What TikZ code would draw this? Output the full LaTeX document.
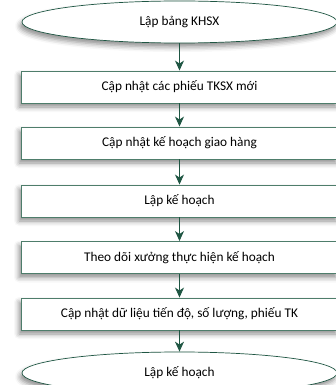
\documentclass[tikz,border=0pt]{standalone}
\usepackage{fontspec}
\setmainfont{Carlito}
\usetikzlibrary{shapes.geometric,shadows.blur,arrows.meta}
\definecolor{edgegreen}{HTML}{4E7D6B}
\definecolor{arrowgreen}{HTML}{1F5643}
\tikzset{
  stepbox/.style={draw=edgegreen, line width=0.9pt, fill=white, rectangle,
    minimum width=317pt, minimum height=32pt, inner sep=0pt, font=\fontsize{13.3}{15}\selectfont,
    blur shadow={shadow xshift=-2pt, shadow yshift=-4pt, shadow blur radius=5pt, shadow opacity=45}},
  termbox/.style={draw=arrowgreen, line width=0.7pt, fill=white, ellipse,
    minimum width=315pt, minimum height=42pt, inner sep=0pt, font=\fontsize{13.3}{15}\selectfont,
    blur shadow={shadow xshift=-2pt, shadow yshift=-4pt, shadow blur radius=5pt, shadow opacity=45}},
  flow/.style={draw=arrowgreen, line width=1pt, -{Stealth[length=10pt,width=9pt,inset=3pt]}}
}
\begin{document}
\begin{tikzpicture}[x=1pt,y=-1pt]
\useasboundingbox (0,0) rectangle (336,385);
\node[termbox] (e1) at (179.5,22) {Lập bảng KHSX};
\node[stepbox] (b1) at (179.5,87) {Cập nhật các phiếu TKSX mới};
\node[stepbox] (b2) at (179.5,143) {Cập nhật kế hoạch giao hàng};
\node[stepbox] (b3) at (179.5,201) {Lập kế hoạch};
\node[stepbox] (b4) at (179.5,257.5) {Theo dõi xưởng thực hiện kế hoạch};
\node[stepbox] (b5) at (179.5,314) {Cập nhật dữ liệu tiến độ, số lượng, phiếu TK};
\node[termbox] (e2) at (179.5,373) {Lập kế hoạch};
\draw[flow] (e1) -- (b1);
\draw[flow] (b1) -- (b2);
\draw[flow] (b2) -- (b3);
\draw[flow] (b3) -- (b4);
\draw[flow] (b4) -- (b5);
\draw[flow] (b5) -- (e2);
\end{tikzpicture}
\end{document}
